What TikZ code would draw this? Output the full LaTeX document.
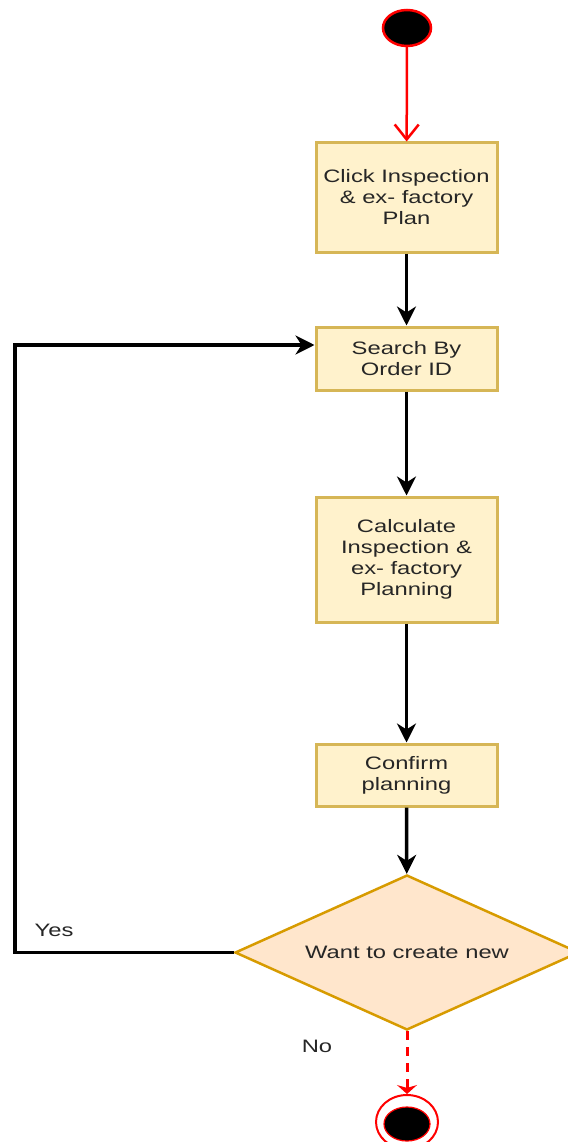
\documentclass[tikz,border=0pt]{standalone}
\usepackage{fontspec}
\setmainfont{Liberation Sans}[FakeStretch=1.32]
\usetikzlibrary{arrows.meta,shapes.geometric}
\definecolor{boxfill}{HTML}{FFF2CC}
\definecolor{boxline}{HTML}{D6B656}
\definecolor{decfill}{HTML}{FFE6CC}
\definecolor{decline}{HTML}{D79B00}
\definecolor{txt}{HTML}{262626}
\tikzset{
  stepbox/.style={draw=boxline, fill=boxfill, line width=3pt, minimum width=181pt,
    align=center, text=txt, inner sep=2pt},
  decision/.style={diamond, draw=decline, fill=decfill, line width=2.5pt, aspect=2.22,
    minimum width=344pt, minimum height=155pt, text=txt, inner sep=0pt},
  flow/.style={draw=black, line width=3.5pt, -{Stealth[length=19pt,width=19pt,inset=6pt]}},
  label/.style={text=txt, inner sep=0pt},
  every node/.style={font=\fontsize{18}{21}\selectfont}
}
\begin{document}
\begin{tikzpicture}[x=1pt,y=-1pt]
\useasboundingbox (0,0) rectangle (567,1142);

% start and end markers
\node[ellipse, draw=red, fill=black, line width=2.5pt, minimum width=48pt, minimum height=36pt, inner sep=0pt] (start) at (407,28) {};
\node[ellipse, draw=red, line width=2pt, minimum width=62pt, minimum height=54pt, inner sep=0pt] (stop) at (407,1122) {};
\node[ellipse, draw=red, fill=black, line width=1.2pt, minimum width=46pt, minimum height=34pt, inner sep=0pt] (stopcore) at (407,1124) {};

% activities
\node[stepbox, minimum height=109pt] (click) at (406.5,197.5) {Click Inspection\\\& ex- factory\\Plan};
\node[stepbox, minimum height=63pt] (search) at (406.5,358.5) {Search By\\Order ID};
\node[stepbox, minimum height=125pt] (calc) at (406.5,559.5) {Calculate\\Inspection \&\\ex- factory\\Planning};
\node[stepbox, minimum height=62pt] (confirm) at (406.5,775) {Confirm\\planning};
\node[decision] (want) at (407,952.5) {Want to create new};

% branch labels
\node[label] (yes) at (54,930) {Yes};
\node[label] (no) at (317,1046) {No};

% connectors
\coordinate (loopbot) at (15,952.5);
\coordinate (looptop) at (15,345);
\draw[red, line width=2.5pt, -{Straight Barb[length=15pt,width=24pt,line width=2.5pt]}] (start) -- (click);
\draw[flow] (click) -- (search);
\draw[flow] (search) -- (calc);
\draw[flow] (calc) -- (confirm);
\draw[flow] (confirm) -- (want);
\draw[flow] (want.west) -- (loopbot) -- (looptop) -- (search.west |- looptop);
\draw[red, line width=3pt, dash pattern=on 9pt off 7pt, -{Stealth[length=9pt,width=20pt]}] (want.south) -- (stop.north);
\end{tikzpicture}
\end{document}
